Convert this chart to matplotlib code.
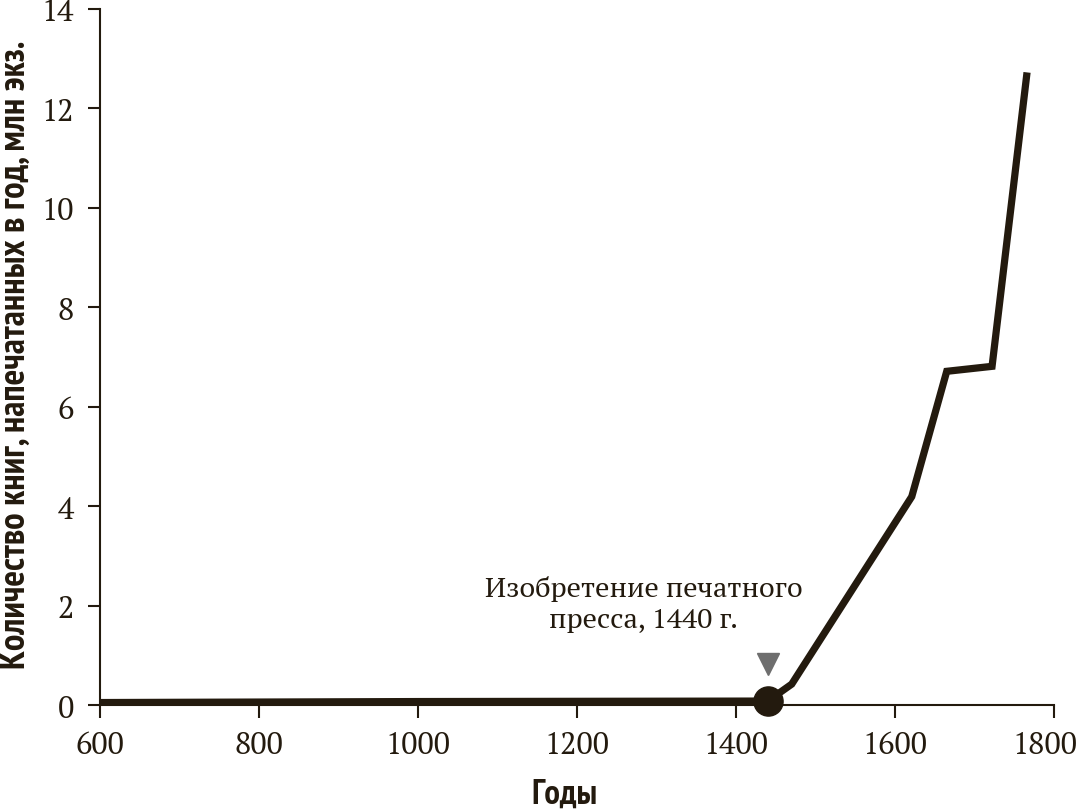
import matplotlib
matplotlib.use('Agg')
import matplotlib.pyplot as plt
from matplotlib.transforms import ScaledTranslation

# Data
years = [600, 1000, 1440, 1470, 1621, 1665, 1722, 1766]
books = [0.05, 0.07, 0.08, 0.42, 4.19, 6.71, 6.81, 12.72]
press_year = 1440
press_value = 0.08
press_label = 'Изобретение печатного\nпресса, 1440 г.'
x_ticks = [600, 800, 1000, 1200, 1400, 1600, 1800]
y_ticks = [0, 2, 4, 6, 8, 10, 12, 14]

ink = '#231a0e'
serif = ['PT Serif', 'Noto Serif', 'Liberation Serif', 'DejaVu Serif']
narrow = ['PT Sans Narrow', 'Roboto Condensed', 'Liberation Serif']

fig = plt.figure(figsize=(10.78, 8.12), dpi=100)
ax = fig.add_axes([0.0928, 0.1305, 0.885, 0.8575])

ax.plot(years, books, color=ink, lw=5.2, solid_joinstyle='miter',
        solid_capstyle='butt', zorder=3)
ax.plot([press_year], [press_value], 'o', color=ink, ms=21, zorder=4, clip_on=False)
ax.plot([press_year], [0.83], 'v', color='#6e6e6e', ms=16, zorder=4)
ax.text(1284, 2.05, press_label, ha='center', va='center', fontsize=20.5,
        family=serif, color=ink, linespacing=1.3)

ax.set_xlim(600, 1800)
ax.set_ylim(0, 14)
ax.set_xticks(x_ticks)
ax.set_yticks(y_ticks)
for lab in ax.get_xticklabels() + ax.get_yticklabels():
    lab.set_family(serif)
    lab.set_fontsize(22)
    lab.set_color(ink)
ax.tick_params(axis='both', length=9, width=1.5, color=ink)
ax.tick_params(axis='x', pad=9)
ax.tick_params(axis='y', pad=10)
last = ax.get_xticklabels()[-1]
last.set_transform(last.get_transform() + ScaledTranslation(-0.09, 0, fig.dpi_scale_trans))

ax.set_xlabel('Годы', family=narrow, fontsize=25, fontweight='bold', color=ink)
ax.xaxis.set_label_coords(0.487, -0.104)
ax.set_ylabel('Количество книг, напечатанных в год, млн экз.', family=narrow,
              fontsize=26.5, fontweight='bold', color=ink)
ax.yaxis.set_label_coords(-0.0715, 0.505)

for pos in ['top', 'right']:
    ax.spines[pos].set_visible(False)
for pos in ['left', 'bottom']:
    ax.spines[pos].set_color(ink)
    ax.spines[pos].set_linewidth(1.5)

plt.savefig('out.png', dpi=100)
